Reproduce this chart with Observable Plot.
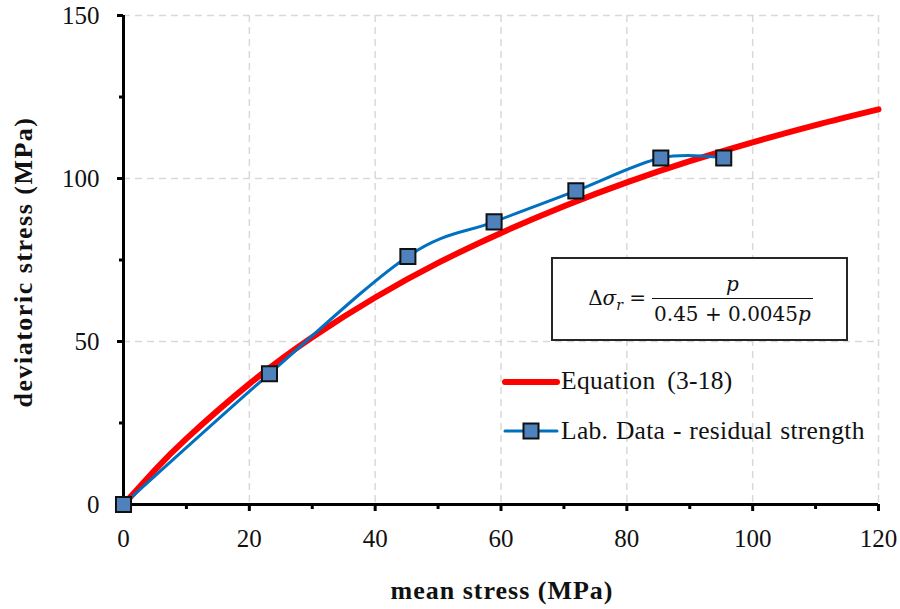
<!DOCTYPE html>
<html>
<head>
<meta charset="utf-8">
<script src="https://cdn.jsdelivr.net/npm/d3@7"></script>
<script src="https://cdn.jsdelivr.net/npm/@observablehq/plot@0.6"></script>
<style>
  html, body { margin: 0; padding: 0; background: #fff; }
  #wrap { position: relative; width: 900px; height: 609px; font-family: "Liberation Serif", "Times New Roman", serif; }
  #wrap > svg { position: absolute; left: 0; top: 0; }
  #eq { position: absolute; left: 551px; top: 257px; width: 293px; height: 80px; border: 2px solid #262626; background: #fff;
        display: flex; align-items: center; justify-content: center; font-family: "DejaVu Serif", "Liberation Serif", serif; font-size: 20px; color: #111; }
  .frac { display: inline-flex; flex-direction: column; align-items: center; margin-left: 8px; }
  .frac .num { padding: 0 2px 2px; border-bottom: 1.5px solid #111; width: 100%; text-align: center; font-style: italic; }
  .frac .den { padding-top: 3px; }
  .li { position: absolute; left: 500px; height: 40px; width: 400px; font-size: 25.5px; color: #111; }
  .li svg { position: absolute; left: 0; top: 0; }
  .li span { position: absolute; left: 61px; top: 20px; transform: translateY(-52%); white-space: nowrap; letter-spacing: 0.3px; word-spacing: 1px; }
</style>
</head>
<body>
<div id="wrap">
  <div id="eq"><span>Δ<i>σ</i><sub style="font-size:14px"><i>r</i></sub>&nbsp;=</span><span class="frac"><span class="num">p</span><span class="den">0.45 + 0.0045<i>p</i></span></span></div>
  <div class="li" style="top:362px"><svg width="60" height="40"><line x1="5" y1="20" x2="57" y2="20" stroke="#ff0000" stroke-width="6" stroke-linecap="round"/></svg><span style="word-spacing:5px">Equation (3-18)</span></div>
  <div class="li" style="top:412px"><svg width="60" height="40"><line x1="5" y1="19" x2="57" y2="19" stroke="#0070c0" stroke-width="3" stroke-linecap="round"/><rect x="23.5" y="11.5" width="15" height="15" fill="#4f81bd" stroke="#111" stroke-width="2"/></svg><span>Lab. Data - residual strength</span></div>
</div>
<script>
// Equation (3-18) curve
const eqP = [0, 5, 10, 20, 30, 40, 50, 60, 70, 80, 90, 100, 110, 120];
const eqQ = [0, 10.6, 20.2, 37.0, 51.3, 63.5, 74.1, 83.3, 91.5, 98.8, 105.3, 111.1, 116.4, 121.2];
// Lab data - residual strength
const labP = [0, 23.2, 45.2, 58.9, 71.9, 85.4, 95.4];
const labQ = [0, 40.1, 76.1, 86.7, 96.2, 106.3, 106.3];
// axis ticks
const xMajor = [0, 20, 40, 60, 80, 100, 120];
const xMinor = [10, 30, 50, 70, 90, 110];
const yMajor = [0, 50, 100, 150];
const yMinor = [25, 75, 125];
const xTitle = "mean stress (MPa)";
const yTitle = "deviatoric stress (MPa)";

const eqData = eqP.map((p, i) => ({p, q: eqQ[i]}));
const labData = labP.map((p, i) => ({p, q: labQ[i]}));

const font = "Liberation Serif, Times New Roman, serif";
const chart = Plot.plot({
  width: 900, height: 609,
  marginLeft: 123, marginRight: 22, marginTop: 15, marginBottom: 105,
  style: {fontFamily: font, fontSize: "25px", color: "#111", background: "transparent"},
  x: {domain: [0, 120]},
  y: {domain: [0, 150]},
  marks: [
    Plot.gridX(xMajor.filter(d => d > 0), {stroke: "#d9d9d9", strokeOpacity: 1, strokeWidth: 1.5, strokeDasharray: "7,5"}),
    Plot.gridY(yMajor.filter(d => d > 0), {stroke: "#d9d9d9", strokeOpacity: 1, strokeWidth: 1.5, strokeDasharray: "7,5"}),
    Plot.axisX(xMajor, {tickSize: 7, strokeWidth: 3, tickPadding: 18, fontSize: 25, label: null, stroke: "#000"}),
    Plot.axisX(xMinor, {tickSize: 5, strokeWidth: 3, text: null, label: null, stroke: "#000"}),
    Plot.axisY(yMajor, {tickSize: 6, strokeWidth: 3, tickPadding: 18, fontSize: 25, label: null, stroke: "#000"}),
    Plot.axisY(yMinor, {tickSize: 4, strokeWidth: 3, text: null, label: null, stroke: "#000"}),
    Plot.ruleX([0], {stroke: "#000", strokeWidth: 3}),
    Plot.ruleY([0], {stroke: "#000", strokeWidth: 3}),
    Plot.line(eqData, {x: "p", y: "q", stroke: "#ff0000", strokeWidth: 6, curve: "natural"}),
    Plot.line(labData, {x: "p", y: "q", stroke: "#0070c0", strokeWidth: 3, curve: "cardinal"}),
    Plot.dot(labData, {x: "p", y: "q", symbol: "square", r: 8.5, fill: "#4f81bd", stroke: "#111", strokeWidth: 2}),
    Plot.text([xTitle], {frameAnchor: "bottom", textAnchor: "middle", lineAnchor: "middle", dy: 86, dx: 1, fontWeight: "bold", fontSize: 26, fill: "#111"}),
    Plot.text([yTitle], {frameAnchor: "left", textAnchor: "middle", lineAnchor: "middle", dx: -100, dy: 2, rotate: -90, fontWeight: "bold", fontSize: 26, fill: "#111"})
  ]
});
d3.select(chart).selectAll("text")
  .filter(function() { return this.textContent === xTitle; }).attr("letter-spacing", "1px");
d3.select(chart).selectAll("text")
  .filter(function() { return this.textContent === yTitle; }).attr("letter-spacing", "1.5px");
document.getElementById("wrap").prepend(chart);
</script>
</body>
</html>
